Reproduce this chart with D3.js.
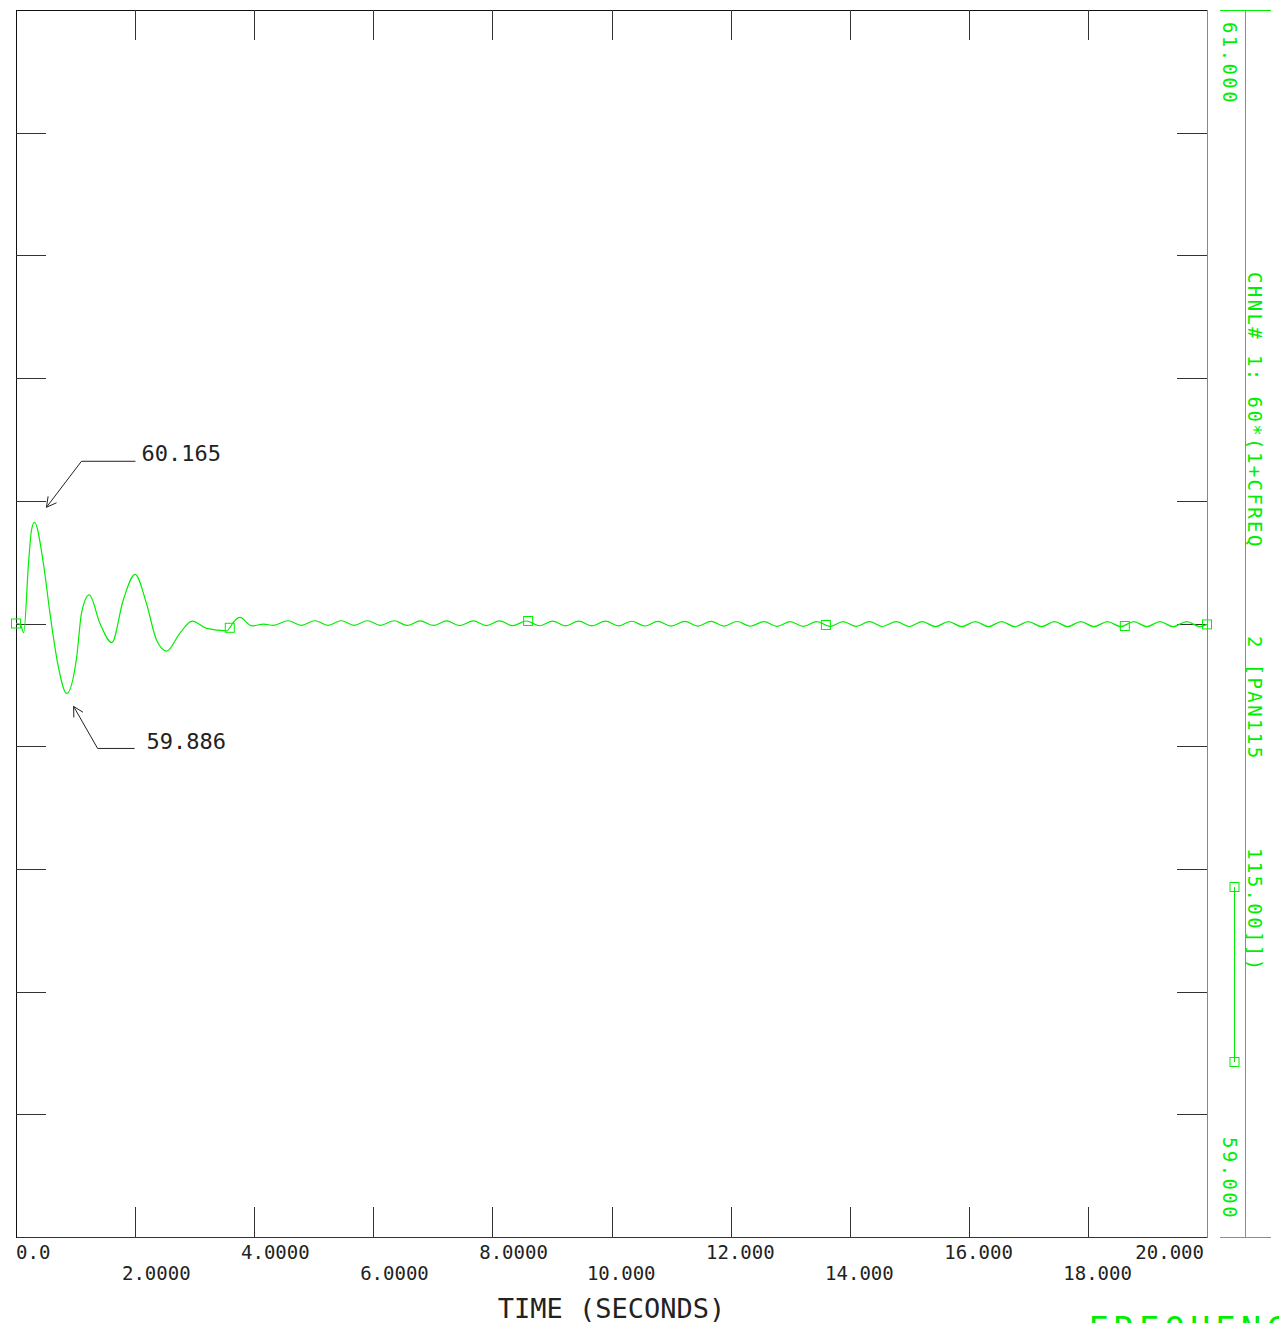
<!DOCTYPE html>
<html>
<head>
<meta charset="utf-8">
<script src="https://cdn.jsdelivr.net/npm/d3@7"></script>
<style>
  html, body { margin: 0; padding: 0; background: #ffffff; overflow: hidden; }
  svg { display: block; }
  text { font-family: "DejaVu Sans Mono", "Liberation Mono", monospace; }
</style>
</head>
<body>
<svg id="chart" width="1279" height="1323"></svg>
<script>
// ---------------- data ----------------
const timeSec = [
  0.00, 0.07, 0.13, 0.21, 0.26, 0.31, 0.46, 0.57, 0.71, 0.85,
  1.02, 1.10, 1.23, 1.41, 1.61, 1.80, 2.00, 2.19, 2.36, 2.53,
  2.75, 2.96, 3.20, 3.54, 3.59, 3.65, 3.76, 3.96, 4.16, 4.32,
  4.57, 4.79, 5.02, 5.24, 5.46, 5.68, 5.90, 6.12, 6.35, 6.57,
  6.79, 7.01, 7.23, 7.45, 7.68, 7.90, 8.12, 8.34, 8.57, 8.79,
  9.01, 9.23, 9.45, 9.67, 9.90, 10.12, 10.34, 10.56, 10.78, 11.00,
  11.23, 11.45, 11.67, 11.89, 12.11, 12.33, 12.56, 12.78, 13.00, 13.22,
  13.45, 13.67, 13.89, 14.11, 14.33, 14.55, 14.78, 15.00, 15.22, 15.44,
  15.66, 15.88, 16.11, 16.33, 16.55, 16.77, 17.00, 17.22, 17.44, 17.66,
  17.88, 18.10, 18.33, 18.55, 18.77, 18.99, 19.21, 19.43, 19.66, 19.88,
  20.00
];
const freqHz = [
  60.000, 59.999, 59.985, 60.098, 60.152, 60.165, 60.098, 60.017, 59.930, 59.886,
  59.946, 60.017, 60.0465, 60.000, 59.969, 60.038, 60.080, 60.033, 59.973, 59.955,
  59.984, 60.004, 59.992, 59.988, 59.993, 60.002, 60.010, 59.996, 59.999, 59.997,
  60.0045, 59.9970, 60.0045, 59.9970, 60.0045, 59.9970, 60.0045, 59.9970, 60.0045, 59.9968,
  60.0043, 59.9968, 60.0043, 59.9966, 60.0042, 59.9966, 60.0042, 59.9964, 60.0041, 59.9963,
  60.0040, 59.9962, 60.0039, 59.9961, 60.0038, 59.9960, 60.0037, 59.9959, 60.0036, 59.9958,
  60.0035, 59.9957, 60.0034, 59.9956, 60.0033, 59.9955, 60.0032, 59.9954, 60.0032, 59.9953,
  60.0031, 59.9952, 60.0031, 59.9952, 60.0030, 59.9951, 60.0030, 59.9951, 60.0030, 59.9950,
  60.0030, 59.9950, 60.0030, 59.9950, 60.0030, 59.9950, 60.0030, 59.9950, 60.0030, 59.9950,
  60.0030, 59.9950, 60.0030, 59.9950, 60.0030, 59.9950, 60.0030, 59.9950, 60.0030, 59.9950,
  59.9985
];
const markerTimes  = [0.00, 3.59, 8.60, 13.60, 18.62, 20.00];
const markerValues = [60.000, 59.993, 60.0041, 59.9976, 59.9959, 59.9985];

const xTickValues = [0, 2, 4, 6, 8, 10, 12, 14, 16, 18, 20];
const xTickLabels = ["0.0", "2.0000", "4.0000", "6.0000", "8.0000", "10.000",
                     "12.000", "14.000", "16.000", "18.000", "20.000"];
const yTickValues = [59.2, 59.4, 59.6, 59.8, 60.0, 60.2, 60.4, 60.6, 60.8];
const yRange = [59, 61];
const yEndLabels = ["61.000", "59.000"];

const maxLabel = "60.165";
const minLabel = "59.886";
const xTitle = "TIME (SECONDS)";
const channelText = ["CHNL# 1: 60*(1+CFREQ", "2 [PAN115", "115.00]])"];
const yTitle = "FREQUENCY";

// ---------------- drawing ----------------
(function () {
const svg = d3.select("#chart");
const GREEN = "#00ee00";
const DARK = "#222222";

const pL = 16, pR = 1207, pT = 10, pB = 1237;
const x = d3.scaleLinear().domain([0, 20]).range([pL, pR]);
const y = d3.scaleLinear().domain(yRange).range([pB, pT]);

// frame
const frame = svg.append("g").attr("shape-rendering", "crispEdges");
frame.append("line").attr("x1", pL).attr("x2", pR).attr("y1", pT + 0.5).attr("y2", pT + 0.5).attr("stroke", "#111");
frame.append("line").attr("x1", pL).attr("x2", pR).attr("y1", pB + 0.5).attr("y2", pB + 0.5).attr("stroke", "#333");
frame.append("line").attr("x1", pL + 0.5).attr("x2", pL + 0.5).attr("y1", pT).attr("y2", pB + 1).attr("stroke", "#111");
frame.append("line").attr("x1", pR + 0.5).attr("x2", pR + 0.5).attr("y1", pT).attr("y2", pB + 1).attr("stroke", "#888");

// inward ticks on all four sides
const TL = 30;
const innerX = xTickValues.filter(v => v > 0 && v < 20);
frame.append("g").selectAll("line").data(innerX).join("line")
  .attr("x1", d => Math.round(x(d)) + 0.5).attr("x2", d => Math.round(x(d)) + 0.5)
  .attr("y1", pT).attr("y2", pT + TL).attr("stroke", "#333");
frame.append("g").selectAll("line").data(innerX).join("line")
  .attr("x1", d => Math.round(x(d)) + 0.5).attr("x2", d => Math.round(x(d)) + 0.5)
  .attr("y1", pB - TL).attr("y2", pB).attr("stroke", "#333");
frame.append("g").selectAll("line").data(yTickValues).join("line")
  .attr("x1", pL).attr("x2", pL + TL)
  .attr("y1", d => Math.round(y(d)) + 0.5).attr("y2", d => Math.round(y(d)) + 0.5).attr("stroke", "#333");
frame.append("g").selectAll("line").data(yTickValues).join("line")
  .attr("x1", pR - TL).attr("x2", pR)
  .attr("y1", d => Math.round(y(d)) + 0.5).attr("y2", d => Math.round(y(d)) + 0.5).attr("stroke", "#333");

// x tick labels, staggered in two rows
const charW = 11.44;
svg.append("g").selectAll("text").data(xTickValues).join("text")
  .attr("x", (d, i) => {
    const lab = xTickLabels[i];
    let s = x(d) + 4 - (lab.indexOf(".") + 0.5) * charW;
    s = Math.max(pL, s);
    if (s + lab.length * charW > pR - 3) s = pR - 3 - lab.length * charW;
    return s;
  })
  .attr("y", (d, i) => i % 2 === 0 ? 1259 : 1280)
  .attr("font-size", 19)
  .attr("fill", DARK)
  .text((d, i) => xTickLabels[i]);

// x title
svg.append("text")
  .attr("x", (pL + pR) / 2).attr("y", 1318)
  .attr("text-anchor", "middle")
  .attr("font-size", 27)
  .attr("fill", DARK)
  .text(xTitle);

// data line
const pts = timeSec.map((t, i) => [t, freqHz[i]]);
const line = d3.line().x(d => x(d[0])).y(d => y(d[1])).curve(d3.curveMonotoneX);
svg.append("path").datum(pts)
  .attr("d", line)
  .attr("fill", "none")
  .attr("stroke", GREEN)
  .attr("stroke-width", 1.2);

// markers
const MS = 9;
svg.append("g").selectAll("rect").data(markerTimes).join("rect")
  .attr("x", d => x(d) - MS / 2)
  .attr("y", (d, i) => y(markerValues[i]) - MS / 2)
  .attr("width", MS).attr("height", MS)
  .attr("fill", "none").attr("stroke", GREEN).attr("stroke-width", 1);

// annotations (max / min)
function arrow(g, x0, y0, x1, y1) {
  g.append("line").attr("x1", x0).attr("y1", y0).attr("x2", x1).attr("y2", y1)
    .attr("stroke", DARK).attr("stroke-width", 1);
  const ang = Math.atan2(y0 - y1, x0 - x1);
  const L = 11, spread = 0.5;
  [ang - spread, ang + spread].forEach(a => {
    g.append("line").attr("x1", x1).attr("y1", y1)
      .attr("x2", x1 + L * Math.cos(a)).attr("y2", y1 + L * Math.sin(a))
      .attr("stroke", DARK).attr("stroke-width", 1);
  });
}
const ann = svg.append("g");
const iMax = freqHz.indexOf(d3.max(freqHz));
const iMin = freqHz.indexOf(d3.min(freqHz));
{
  const px = x(timeSec[iMax]), py = y(freqHz[iMax]);
  const tipX = px + 12, tipY = py - 15;
  const kx = px + 47, ky = py - 61;
  arrow(ann, kx, ky, tipX, tipY);
  ann.append("line").attr("x1", kx).attr("y1", ky).attr("x2", kx + 54).attr("y2", ky)
    .attr("stroke", DARK).attr("stroke-width", 1);
  ann.append("text").attr("x", kx + 60).attr("y", ky - 0.5)
    .attr("font-size", 22).attr("fill", DARK).text(maxLabel);
}
{
  const px = x(timeSec[iMin]), py = y(freqHz[iMin]);
  const tipX = px + 7, tipY = py + 13;
  const kx = px + 31, ky = py + 55;
  arrow(ann, kx, ky, tipX, tipY);
  ann.append("line").attr("x1", kx).attr("y1", ky).attr("x2", kx + 37).attr("y2", ky)
    .attr("stroke", DARK).attr("stroke-width", 1);
  ann.append("text").attr("x", kx + 49).attr("y", ky + 1)
    .attr("font-size", 22).attr("fill", DARK).text(minLabel);
}

// right green axis
const ra = svg.append("g").attr("shape-rendering", "crispEdges");
const axX = 1245;
ra.append("line").attr("x1", axX + 0.5).attr("x2", axX + 0.5).attr("y1", y(yRange[1])).attr("y2", y(yRange[0]) + 1).attr("stroke", GREEN);
ra.append("line").attr("x1", 1220).attr("x2", 1271).attr("y1", y(yRange[1]) + 0.5).attr("y2", y(yRange[1]) + 0.5).attr("stroke", GREEN);
ra.append("line").attr("x1", 1220).attr("x2", 1271).attr("y1", y(yRange[0]) + 0.5).attr("y2", y(yRange[0]) + 0.5).attr("stroke", GREEN);

function vtext(tx, ty, str, size, ls) {
  svg.append("text")
    .attr("transform", `translate(${tx},${ty}) rotate(90)`)
    .attr("font-size", size)
    .attr("letter-spacing", ls)
    .attr("fill", GREEN)
    .text(str);
}
vtext(1223, y(yRange[1]) + 12, yEndLabels[0], 19, 2.4);
vtext(1223, y(yRange[0]) - 100, yEndLabels[1], 19, 2.4);
vtext(1248, 272, channelText[0], 19, 2.4);
vtext(1248, 636, channelText[1], 19, 2.4);
vtext(1248, 848, channelText[2], 19, 2.4);

// legend sample
const lg = svg.append("g");
lg.append("line").attr("x1", 1234.5).attr("x2", 1234.5).attr("y1", 887).attr("y2", 1062).attr("stroke", GREEN);
lg.selectAll("rect").data([887, 1062]).join("rect")
  .attr("x", 1234.5 - MS / 2).attr("y", d => d - MS / 2)
  .attr("width", MS).attr("height", MS)
  .attr("fill", "none").attr("stroke", GREEN);

// clipped y title at the bottom right
svg.append("text")
  .attr("x", 1088).attr("y", 1341)
  .attr("font-size", 34)
  .attr("letter-spacing", 5)
  .attr("fill", GREEN)
  .text(yTitle);
})();
</script>
</body>
</html>
